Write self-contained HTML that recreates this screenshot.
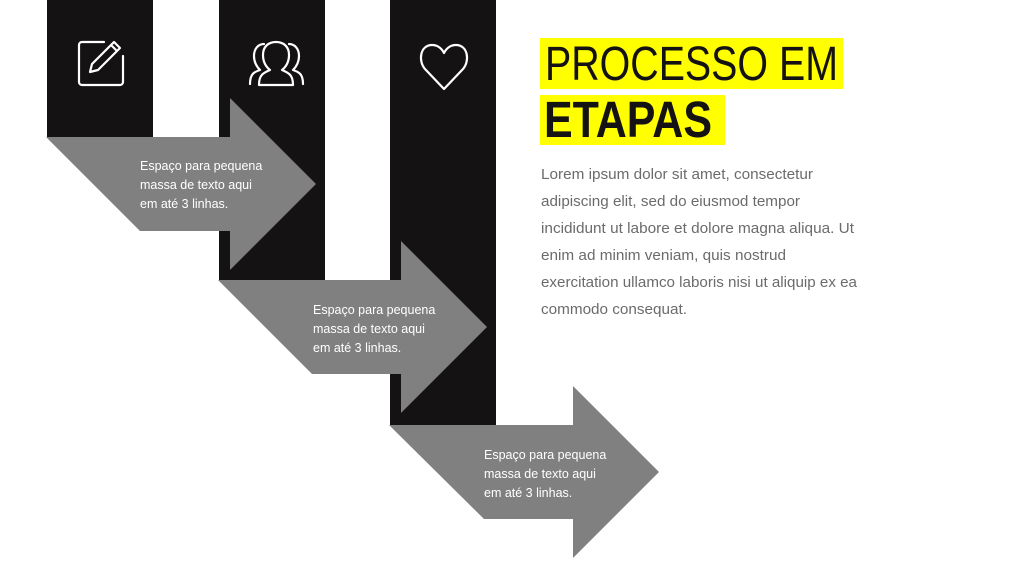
<!DOCTYPE html>
<html><head><meta charset="utf-8"><style>
html,body{margin:0;padding:0;background:#fff;}
svg{display:block;font-family:"Liberation Sans",sans-serif;}
</style></head><body>
<svg width="1024" height="576" viewBox="0 0 1024 576" xmlns="http://www.w3.org/2000/svg">
<rect width="1024" height="576" fill="#fff"/>
<rect x="47" y="0" width="106" height="138" fill="#141213"/>
<rect x="219" y="0" width="106" height="281" fill="#141213"/>
<rect x="390" y="0" width="106" height="426" fill="#141213"/>
<polygon points="46,137 230,137 230,98 316,184 230,270 230,231 140,231" fill="#808080"/>
<polygon points="218,280 401,280 401,241 487,327 401,413 401,374 312,374" fill="#808080"/>
<polygon points="389,425 573,425 573,386 659,472 573,558 573,519 484,519" fill="#808080"/>
<g fill="none" stroke="#fff" stroke-width="2.2" stroke-linecap="round" stroke-linejoin="round">
<path d="M104,42 H82 a3,3 0 0 0 -3,3 V82 a3,3 0 0 0 3,3 H120 a3,3 0 0 0 3,-3 V56"/>
<path d="M90,72 L92,64 L114,42 L120,48 L98,70 Z M111,45 L117,51"/>
<path d="M250,84 c0,-10 4,-12 10,-14 c-4,-4 -6,-8 -6,-14 c0,-8 5,-12 10,-12 M303,84 c0,-10 -4,-12 -10,-14 c4,-4 6,-8 6,-14 c0,-8 -5,-12 -10,-12"/>
<path d="M259,85 c0,-10 4,-12 11,-15 c-5,-4 -7,-9 -7,-15 c0,-9 6,-13 13,-13 c7,0 13,4 13,13 c0,6 -2,11 -7,15 c7,3 11,5 11,15 Z"/>
<path d="M444,89 L425,69 C418,61 420,45 432,45 C438,45 442,49 444,53 C446,49 450,45 456,45 C468,45 470,61 463,69 Z"/>
</g>
<g fill="#fff" font-size="12.5">
<text x="140" y="170">Espaço para pequena</text>
<text x="140" y="189">massa de texto aqui</text>
<text x="140" y="208">em até 3 linhas.</text>
<text x="313" y="314">Espaço para pequena</text>
<text x="313" y="333">massa de texto aqui</text>
<text x="313" y="352">em até 3 linhas.</text>
<text x="484" y="459">Espaço para pequena</text>
<text x="484" y="478">massa de texto aqui</text>
<text x="484" y="497">em até 3 linhas.</text>
</g>
<rect x="540" y="38" width="303" height="51" fill="#ffff00"/>
<rect x="540" y="95" width="185" height="50" fill="#ffff00"/>
<text x="545" y="80" font-size="48" fill="#141213" textLength="293" lengthAdjust="spacingAndGlyphs">PROCESSO EM</text>
<text x="544" y="137" font-size="51" font-weight="bold" fill="#141213" textLength="168" lengthAdjust="spacingAndGlyphs">ETAPAS</text>
<g fill="#6b6b6b" font-size="15">
<text x="541" y="179" textLength="272" lengthAdjust="spacingAndGlyphs">Lorem ipsum dolor sit amet, consectetur</text>
<text x="541" y="206" textLength="259" lengthAdjust="spacingAndGlyphs">adipiscing elit, sed do eiusmod tempor</text>
<text x="541" y="233" textLength="313" lengthAdjust="spacingAndGlyphs">incididunt ut labore et dolore magna aliqua. Ut</text>
<text x="541" y="260" textLength="245" lengthAdjust="spacingAndGlyphs">enim ad minim veniam, quis nostrud</text>
<text x="541" y="287" textLength="316" lengthAdjust="spacingAndGlyphs">exercitation ullamco laboris nisi ut aliquip ex ea</text>
<text x="541" y="314" textLength="146" lengthAdjust="spacingAndGlyphs">commodo consequat.</text>
</g>
</svg>
</body></html>
